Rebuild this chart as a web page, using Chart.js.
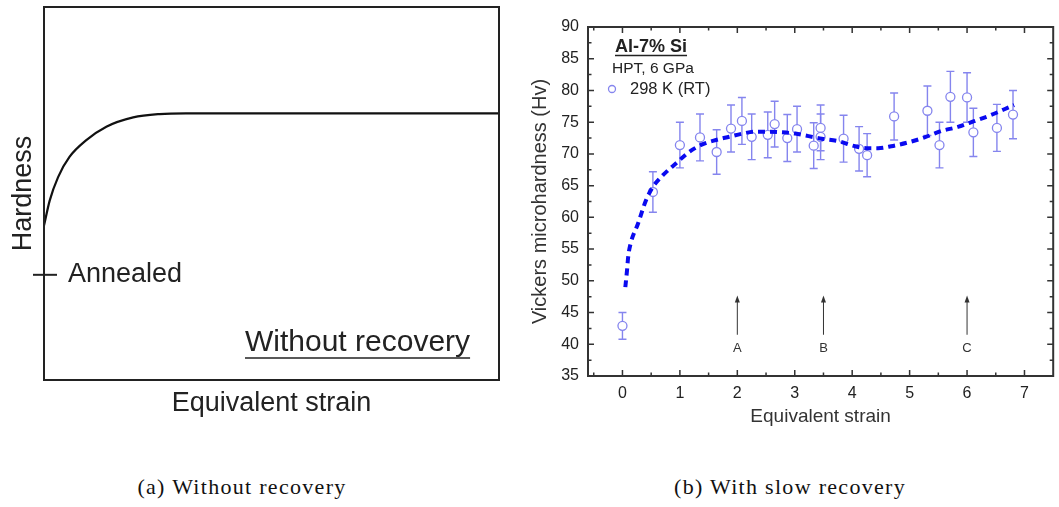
<!DOCTYPE html>
<html lang="en">
<head>
<meta charset="UTF-8">
<title>Hardness vs equivalent strain</title>
<script src="https://cdn.jsdelivr.net/npm/chart.js@4"></script>
<style>
    body {
        margin: 0;
        background: #fff;
        width: 1059px;
        height: 507px;
        position: relative;
        overflow: hidden;
    }
    canvas {
        position: absolute;
        top: 0;
    }
    #chartA { left: 0; }
    #chartB { left: 520px; }
    .caption {
        position: absolute;
        top: 474px;
        font-family: "Liberation Serif", serif;
        font-size: 22px;
        letter-spacing: 1.3px;
        color: #111;
        white-space: nowrap;
        transform: translateX(-50%);
    }
</style>
</head>
<body>
<canvas id="chartA" width="520" height="430"></canvas>
<canvas id="chartB" width="539" height="430"></canvas>
<div class="caption" style="left:242px">(a) Without recovery</div>
<div class="caption" style="left:790px">(b) With slow recovery</div>

<script>
// (a) schematic curve, arbitrary units
const schemStrain = [0, 1.25, 3.1, 5.6, 9.3, 13.7, 19.6, 25.4, 31.2, 100];
const schemHardness = [41.4, 48.1, 54.4, 59.8, 64.3, 67.9, 70.4, 71.3, 71.5, 71.5];
const annealedLevel = 28.2;

// (b) Al-7% Si, HPT 6 GPa, 298 K
const strain = [0, 0.53, 1.0, 1.35, 1.64, 1.89, 2.08, 2.25, 2.53, 2.65, 2.87, 3.04, 3.33,
    3.45, 3.45, 3.85, 4.12, 4.26, 4.73, 5.31, 5.52, 5.71, 6.0, 6.11, 6.52, 6.8];
const hv = [42.9, 64.0, 71.4, 72.6, 70.3, 74.0, 75.2, 72.7, 73.0, 74.7, 72.5, 73.9, 71.3,
    74.1, 72.7, 72.4, 70.8, 69.8, 75.9, 76.8, 71.4, 79.0, 78.9, 73.4, 74.1, 76.2];
const hvErr = [2.1, 3.2, 3.6, 3.7, 3.5, 3.7, 3.7, 3.6, 3.6, 3.6, 3.7, 3.6, 3.6,
    3.6, 3.6, 3.7, 3.5, 3.4, 3.7, 3.9, 3.6, 4.0, 3.9, 3.8, 3.7, 3.8];

// dashed trend line
const fitStrain = [0.05, 0.08, 0.1, 0.14, 0.27, 0.41, 0.53, 0.7, 0.93, 1.16, 1.39, 1.63, 1.86,
    2.09, 2.32, 2.55, 2.78, 3.01, 3.24, 3.47, 3.76, 4.05, 4.25, 4.45, 4.68, 4.97, 5.26,
    5.55, 5.84, 6.12, 6.41, 6.64, 6.82];
const fitHv = [49.0, 51.7, 53.8, 55.8, 59.0, 62.7, 64.8, 66.6, 68.5, 70.3, 71.5, 72.2, 72.7,
    73.2, 73.5, 73.5, 73.4, 73.2, 72.8, 72.4, 72.0, 71.2, 70.9, 70.9, 71.2, 71.8, 72.6,
    73.6, 74.25, 75.15, 76.1, 77.0, 77.7];

const xTicks = [0, 1, 2, 3, 4, 5, 6, 7];
const yTicks = [35, 40, 45, 50, 55, 60, 65, 70, 75, 80, 85, 90];

const arrowStrain = [2, 3.5, 6];
const arrowLabels = ['A', 'B', 'C'];
const arrowHead = 47.7, arrowTail = 41.5, arrowLabelHv = 39.4;

const SANS = '"Liberation Sans", Arial, sans-serif';
const pointColor = '#8585ee';

function zip(xs, ys) {
    return xs.map((x, i) => ({ x: x, y: ys[i] }));
}

// ---------- panel (a) ----------
const frameA = {
    id: 'frameA',
    afterDraw(chart) {
        const { ctx, chartArea: a, scales } = chart;
        ctx.save();
        ctx.strokeStyle = '#222';
        ctx.lineWidth = 2;
        ctx.strokeRect(a.left, a.top, a.right - a.left, a.bottom - a.top);

        const y = scales.y.getPixelForValue(annealedLevel);
        ctx.beginPath();
        ctx.moveTo(a.left - 11, y);
        ctx.lineTo(a.left + 13, y);
        ctx.stroke();

        ctx.fillStyle = '#222';
        ctx.font = '27px ' + SANS;
        ctx.textBaseline = 'middle';
        ctx.fillText('Annealed', a.left + 24, y);

        ctx.font = '30px ' + SANS;
        const tx = a.left + 201, ty = a.bottom - 37;
        ctx.fillText('Without recovery', tx, ty);
        const w = ctx.measureText('Without recovery').width;
        ctx.lineWidth = 1.5;
        ctx.beginPath();
        ctx.moveTo(tx, ty + 15);
        ctx.lineTo(tx + w, ty + 15);
        ctx.stroke();
        ctx.restore();
    }
};

new Chart(document.getElementById('chartA'), {
    type: 'line',
    data: {
        datasets: [{
            data: zip(schemStrain, schemHardness),
            borderColor: '#111',
            borderWidth: 2.2,
            pointRadius: 0,
            cubicInterpolationMode: 'monotone',
            fill: false
        }]
    },
    options: {
        responsive: false,
        animation: false,
        layout: { padding: { top: 7, right: 21, left: 0, bottom: 0 } },
        plugins: { legend: { display: false }, tooltip: { enabled: false } },
        scales: {
            x: {
                type: 'linear', min: 0, max: 100,
                grid: { display: false },
                border: { display: false },
                ticks: { display: false },
                title: {
                    display: true, text: 'Equivalent strain', color: '#222',
                    font: { family: SANS, size: 27 }, padding: { top: 0, bottom: 10 }
                },
                afterFit(s) { s.height = 50; }
            },
            y: {
                type: 'linear', min: 0, max: 100,
                grid: { display: false },
                border: { display: false },
                ticks: { display: false },
                title: {
                    display: true, text: 'Hardness', color: '#222',
                    font: { family: SANS, size: 27 }, padding: { top: 7, bottom: 0 }
                },
                afterFit(s) { s.width = 44; }
            }
        }
    },
    plugins: [frameA]
});

// ---------- panel (b) ----------
const frameB = {
    id: 'frameB',
    beforeDatasetsDraw(chart) {
        // error bars behind the circles
        const { ctx, scales: { x, y } } = chart;
        ctx.save();
        ctx.strokeStyle = pointColor;
        ctx.lineWidth = 1.4;
        strain.forEach((s, i) => {
            const px = x.getPixelForValue(s);
            const top = y.getPixelForValue(hv[i] + hvErr[i]);
            const bot = y.getPixelForValue(hv[i] - hvErr[i]);
            ctx.beginPath();
            ctx.moveTo(px, top); ctx.lineTo(px, bot);
            ctx.moveTo(px - 4, top); ctx.lineTo(px + 4, top);
            ctx.moveTo(px - 4, bot); ctx.lineTo(px + 4, bot);
            ctx.stroke();
        });
        ctx.restore();
    },
    afterDraw(chart) {
        const { ctx, chartArea: a, scales: { x, y } } = chart;
        ctx.save();
        ctx.strokeStyle = '#333';
        ctx.lineWidth = 1.5;
        // inward ticks on all four sides
        for (let v = -0.5; v <= 7.0001; v += 0.5) {
            const px = x.getPixelForValue(v);
            const len = Number.isInteger(v) ? 6 : 3.5;
            ctx.beginPath();
            ctx.moveTo(px, a.bottom); ctx.lineTo(px, a.bottom - len);
            ctx.moveTo(px, a.top); ctx.lineTo(px, a.top + len);
            ctx.stroke();
        }
        for (let v = 37.5; v < 90; v += 2.5) {
            const py = y.getPixelForValue(v);
            const len = v % 5 === 0 ? 6 : 3.5;
            ctx.beginPath();
            ctx.moveTo(a.left, py); ctx.lineTo(a.left + len, py);
            ctx.moveTo(a.right, py); ctx.lineTo(a.right - len, py);
            ctx.stroke();
        }
        ctx.lineWidth = 2;
        ctx.strokeRect(a.left, a.top, a.right - a.left, a.bottom - a.top);

        // arrows A, B, C
        ctx.fillStyle = '#333';
        ctx.lineWidth = 1;
        ctx.font = '13px ' + SANS;
        ctx.textAlign = 'center';
        ctx.textBaseline = 'middle';
        arrowStrain.forEach((s, i) => {
            const px = x.getPixelForValue(s);
            const head = y.getPixelForValue(arrowHead);
            const tail = y.getPixelForValue(arrowTail);
            ctx.beginPath();
            ctx.moveTo(px, tail); ctx.lineTo(px, head + 4);
            ctx.stroke();
            ctx.beginPath();
            ctx.moveTo(px, head);
            ctx.lineTo(px - 2.5, head + 7);
            ctx.lineTo(px + 2.5, head + 7);
            ctx.closePath();
            ctx.fill();
            ctx.fillText(arrowLabels[i], px, y.getPixelForValue(arrowLabelHv));
        });

        // legend block
        ctx.textAlign = 'left';
        ctx.fillStyle = '#222';
        ctx.font = 'bold 18px ' + SANS;
        ctx.fillText('Al-7% Si', a.left + 27, a.top + 20);
        const w = ctx.measureText('Al-7% Si').width;
        ctx.lineWidth = 1.5;
        ctx.strokeStyle = '#222';
        ctx.beginPath();
        ctx.moveTo(a.left + 27, a.top + 28.5);
        ctx.lineTo(a.left + 27 + w, a.top + 28.5);
        ctx.stroke();
        ctx.font = '15.5px ' + SANS;
        ctx.fillText('HPT, 6 GPa', a.left + 24, a.top + 42);
        ctx.font = '16.5px ' + SANS;
        ctx.fillText('298 K (RT)', a.left + 42, a.top + 62);
        ctx.strokeStyle = pointColor;
        ctx.lineWidth = 1.3;
        ctx.beginPath();
        ctx.arc(a.left + 24, a.top + 62, 3.5, 0, Math.PI * 2);
        ctx.stroke();
        ctx.restore();
    }
};

new Chart(document.getElementById('chartB'), {
    type: 'scatter',
    data: {
        datasets: [{
            type: 'line',
            data: zip(fitStrain, fitHv),
            borderColor: '#0a0af0',
            borderWidth: 4,
            borderDash: [7, 5],
            pointRadius: 0,
            cubicInterpolationMode: 'monotone',
            fill: false,
            order: 1
        }, {
            data: zip(strain, hv),
            pointStyle: 'circle',
            pointRadius: 4.5,
            pointBackgroundColor: '#fff',
            pointBorderColor: pointColor,
            pointBorderWidth: 1.3,
            order: 2
        }]
    },
    options: {
        responsive: false,
        animation: false,
        layout: { padding: { top: 27, right: 2, left: 0, bottom: 0 } },
        plugins: { legend: { display: false }, tooltip: { enabled: false } },
        scales: {
            x: {
                type: 'linear', min: -0.6, max: 7.5,
                afterBuildTicks(s) { s.ticks = xTicks.map(v => ({ value: v })); },
                grid: { display: false },
                border: { display: false },
                ticks: { color: '#222', padding: 0, font: { family: SANS, size: 16 } },
                title: {
                    display: true, text: 'Equivalent strain', color: '#333',
                    font: { family: SANS, size: 19 }, padding: { top: 0, bottom: 2 }
                },
                afterFit(s) { s.height = 54; }
            },
            y: {
                type: 'linear', min: 35, max: 90,
                afterBuildTicks(s) { s.ticks = yTicks.map(v => ({ value: v })); },
                grid: { display: false },
                border: { display: false },
                ticks: { color: '#222', padding: 1, font: { family: SANS, size: 16 } },
                title: {
                    display: true, text: 'Vickers microhardness (Hv)', color: '#333',
                    font: { family: SANS, size: 20 }, padding: { top: 8, bottom: 0 }
                },
                afterFit(s) { s.width = 68; }
            }
        }
    },
    plugins: [frameB]
});
</script>
</body>
</html>
